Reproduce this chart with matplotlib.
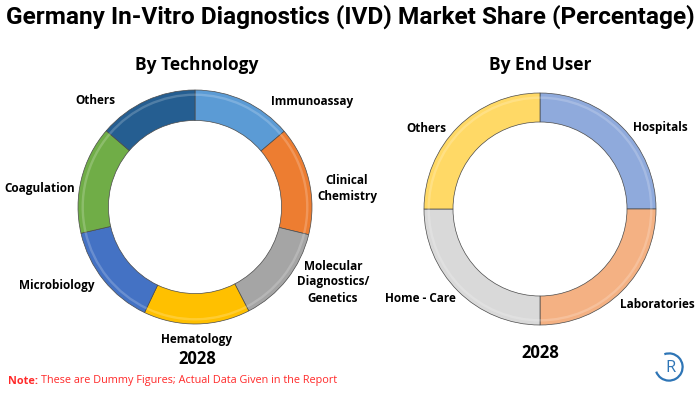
import matplotlib
matplotlib.use("Agg")
import matplotlib.pyplot as plt
from matplotlib.patches import Arc

# data
tech_labels = ["Immunoassay", "Clinical\nChemistry", "Molecular\nDiagnostics/\nGenetics",
               "Hematology", "Microbiology", "Coagulation", "Others"]
tech_share = [13.8, 15.0, 13.6, 14.7, 14.3, 14.9, 13.7]
tech_colors = ["#5B9BD5", "#ED7D31", "#A5A5A5", "#FFC000", "#4472C4", "#70AD47", "#255E91"]

user_labels = ["Hospitals", "Laboratories", "Home - Care", "Others"]
user_share = [25, 25, 25, 25]
user_colors = ["#8FAADC", "#F4B183", "#D9D9D9", "#FFD966"]

W, H = 700, 393
fig = plt.figure(figsize=(W / 100, H / 100), dpi=100)
fig.patch.set_facecolor("white")


def px(x, y):
    # pixel coords (top-left origin) -> figure fraction
    return x / W, 1 - y / H


def donut(cx, cy, r, values, colors, width):
    box = 120
    ax = fig.add_axes([(cx - box) / W, (H - cy - box) / H, 2 * box / W, 2 * box / H])
    ax.pie(values, colors=colors, startangle=90, counterclock=False,
           radius=r / box,
           wedgeprops=dict(width=width * r / box, edgecolor="#4a4a4a", linewidth=0.5))
    # soft highlight on the outer rim to hint the bevel
    ax.pie(values, colors=["white"] * len(values), startangle=90, counterclock=False,
           radius=r / box * 0.97,
           wedgeprops=dict(width=0.02, alpha=0.2, linewidth=0))
    ax.set_xlim(-1, 1)
    ax.set_ylim(-1, 1)
    ax.set_aspect("equal")
    ax.axis("off")
    return ax


donut(195, 207, 117, tech_share, tech_colors, 0.26)
donut(540, 209, 116, user_share, user_colors, 0.25)

fam = ["Open Sans", "DejaVu Sans"]

fig.text(*px(350, 17), "Germany In-Vitro Diagnostics (IVD) Market Share (Percentage)",
         ha="center", va="center", fontsize=17.6, fontweight="bold", family="Roboto")
fig.text(*px(197, 65), "By Technology", ha="center", va="center",
         fontsize=12.5, fontweight="bold", family=fam)
fig.text(*px(540, 65), "By End User", ha="center", va="center",
         fontsize=12.5, fontweight="bold", family=fam)

tech_pos = [(312, 101), (347, 188), (333, 282), (197, 340), (57, 285), (40, 188), (95, 101)]
for lab, (x, y) in zip(tech_labels, tech_pos):
    fig.text(*px(x, y), lab, ha="center", va="center", fontsize=8.5,
             fontweight="bold", family=fam, linespacing=1.3)

user_pos = [(660, 128), (657, 305), (420, 298), (426, 128)]
for lab, (x, y) in zip(user_labels, user_pos):
    fig.text(*px(x, y), lab, ha="center", va="center", fontsize=8.5,
             fontweight="bold", family=fam)

fig.text(*px(197, 359), "2028", ha="center", va="center", fontsize=12,
         fontweight="bold", family=fam)
fig.text(*px(540, 353), "2028", ha="center", va="center", fontsize=12,
         fontweight="bold", family=fam)

fig.text(*px(8, 381), "Note:", ha="left", va="center", fontsize=7.8,
         fontweight="bold", color="#FF2A2A", family=fam)
fig.text(*px(41, 381), "These are Dummy Figures; Actual Data Given in the Report",
         ha="left", va="center", fontsize=7.8, color="#FF2A2A", family=fam)

# small logo in the bottom-right corner
lax = fig.add_axes([652 / W, (H - 384) / H, 34 / W, 34 / H])
lax.add_patch(Arc((0.5, 0.5), 0.8, 0.8, theta1=200, theta2=110, color="#2E75B6", lw=1.6))
lax.text(0.55, 0.47, "R", ha="center", va="center", fontsize=12, color="#2E75B6",
         family=fam)
lax.set_xlim(0, 1)
lax.set_ylim(0, 1)
lax.set_aspect("equal")
lax.axis("off")

fig.savefig("out.png", dpi=100)
